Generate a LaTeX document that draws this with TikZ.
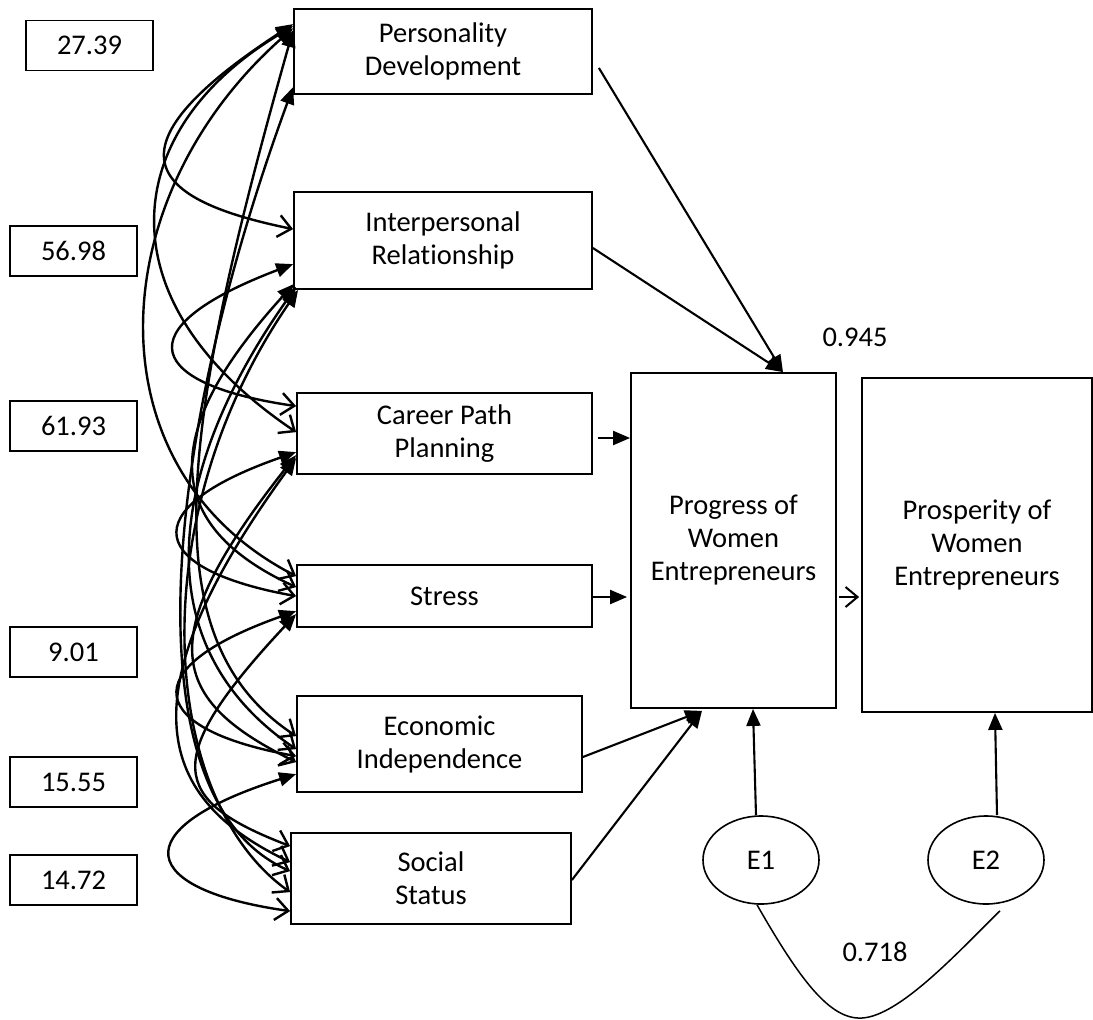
\documentclass[tikz,border=0pt]{standalone}
\usepackage{fontspec}
\setmainfont{Carlito}[Ligatures=NoCommon]
\usetikzlibrary{arrows.meta,shapes.geometric}
\begin{document}
\begin{tikzpicture}[x=1pt,y=-1pt,
  box/.style={draw, line width=1.8pt, inner sep=0pt, align=center, font=\fontsize{28.5}{33}\selectfont},
  numbox/.style={box, minimum width=127pt, minimum height=50pt},
  errnode/.style={draw, ellipse, line width=1.6pt, inner sep=0pt, minimum width=116pt, minimum height=88pt, font=\fontsize{28.5}{33}\selectfont},
  lab/.style={inner sep=0pt, font=\fontsize{28.5}{33}\selectfont},
  corr/.style={line width=2.4pt, {Triangle[length=17pt,width=14pt]}-{Straight Barb[length=13pt,width=22pt]}},
  causal/.style={line width=2.1pt, -{Triangle[length=17pt,width=14pt]}},
  openarr/.style={line width=2pt, -{Straight Barb[length=12pt,width=20pt]}},
  covline/.style={line width=1.5pt}]
\useasboundingbox (0,0) rectangle (1093,1020);

% value boxes
\node[numbox] (v1) at (89.5,45.5) {27.39};
\node[numbox] (v2) at (73.5,251) {56.98};
\node[numbox] (v3) at (73.5,426) {61.93};
\node[numbox] (v4) at (73.5,652) {9.01};
\node[numbox] (v5) at (73.5,782) {15.55};
\node[numbox] (v6) at (73.5,880) {14.72};

% construct boxes
\node[box, minimum width=298pt, minimum height=85pt] (pd) at (443,51.5) {Personality\\Development};
\node[box, minimum width=298pt, minimum height=97pt] (ir) at (443,240.5) {Interpersonal\\Relationship};
\node[box, minimum width=295pt, minimum height=81pt] (cp) at (444.5,433.5) {Career Path\\Planning};
\node[box, minimum width=295pt, minimum height=62pt] (st) at (444.5,596) {Stress};
\node[box, minimum width=285pt, minimum height=96pt] (ei) at (439.5,744) {Economic\\Independence};
\node[box, minimum width=280pt, minimum height=91pt] (ss) at (431,878.5) {Social\\Status};

\node[box, minimum width=205pt, minimum height=335pt] (pw) at (733.5,540.5) {Progress of\\Women\\Entrepreneurs};
\node[box, minimum width=230pt, minimum height=334pt] (pr) at (977,545) {Prosperity of\\Women\\Entrepreneurs};

\node[errnode] (e1) at (761,860) {E1};
\node[errnode] (e2) at (986,860) {E2};

\node[lab] (l945) at (855,337) {0.945};
\node[lab] (l718) at (875,952) {0.718};

% correlations among the six constructs
\draw[corr] ([yshift=-16pt]pd.north west) .. controls (100,150) and (150,200) .. ([yshift=-38pt]ir.north west);
\draw[corr] ([yshift=-18pt]pd.north west) .. controls (120,130) and (100,300) .. ([yshift=-40pt]cp.north west);
\draw[corr] ([yshift=-20pt]pd.north west) .. controls (100,200) and (90,470) .. ([yshift=-12pt]st.north west);
\draw[corr] ([yshift=-22pt]pd.north west) .. controls (180,430) and (150,640) .. ([yshift=-41pt]ei.north west);
\draw[corr] ([yshift=-79pt]pd.north west) .. controls (160,450) and (130,800) .. ([yshift=-39pt]ss.north west);

\draw[corr] ([yshift=-73pt]ir.north west) .. controls (120,330) and (150,385) .. ([yshift=-14pt]cp.north west);
\draw[corr] ([xshift=1pt,yshift=6pt]ir.south west) .. controls (170,420) and (150,520) .. ([yshift=-23pt]st.north west);
\draw[corr] ([xshift=3pt,yshift=3pt]ir.south west) .. controls (160,480) and (150,650) .. ([yshift=-54pt]ei.north west);
\draw[corr] ([xshift=5pt,yshift=0pt]ir.south west) .. controls (140,520) and (160,800) .. ([yshift=-60pt]ss.north west);

\draw[corr] ([yshift=-60pt]cp.north west) .. controls (130,510) and (150,570) .. ([yshift=-32pt]st.north west);
\draw[corr] ([yshift=-63pt]cp.north west) .. controls (150,640) and (170,700) .. ([yshift=-67pt]ei.north west);
\draw[corr] ([yshift=-66pt]cp.north west) .. controls (120,700) and (160,800) .. ([yshift=-30pt]ss.north west);

\draw[corr] ([yshift=-47pt]st.north west) .. controls (130,670) and (150,730) .. ([yshift=-61pt]ei.north west);
\draw[corr] ([yshift=-50pt]st.north west) .. controls (160,760) and (170,800) .. ([yshift=-14pt]ss.north west);

\draw[corr] ([yshift=-79pt]ei.north west) .. controls (120,830) and (140,890) .. ([yshift=-79pt]ss.north west);

% paths to progress
\draw[causal] ([xshift=6pt,yshift=-16.5pt]pd.east) -- ([xshift=49.5pt]pw.north);
\draw[causal] ([yshift=-7.5pt]ir.east) -- ([xshift=49.5pt]pw.north);
\draw[causal] ([xshift=5pt,yshift=-4.5pt]cp.east) -- ([yshift=102.5pt]pw.west);
\draw[causal] ([yshift=-1pt]st.east) -- ([xshift=-3pt,yshift=-56.5pt]pw.west);
\draw[causal] ([yshift=-13pt]ei.east) -- ([xshift=-31.5pt,yshift=-2pt]pw.south);
\draw[causal] ([yshift=-1.5pt]ss.east) -- ([xshift=-31.5pt,yshift=-2pt]pw.south);

\draw[openarr] ([xshift=2pt,yshift=-56.5pt]pw.east) -- ([xshift=-2pt,yshift=-52pt]pr.west);

\draw[causal] ([xshift=-5pt]e1.north) -- ([xshift=19.5pt]pw.south);
\draw[causal] ([xshift=11pt]e2.north) -- ([xshift=18pt]pr.south);

\draw[covline] ([xshift=-4pt]e1.south) .. controls (800,980) and (830,1020) .. (862,1018)
  .. controls (900,1016) and (960,950) .. ([xshift=14pt,yshift=-6pt]e2.south);
\end{tikzpicture}
\end{document}
